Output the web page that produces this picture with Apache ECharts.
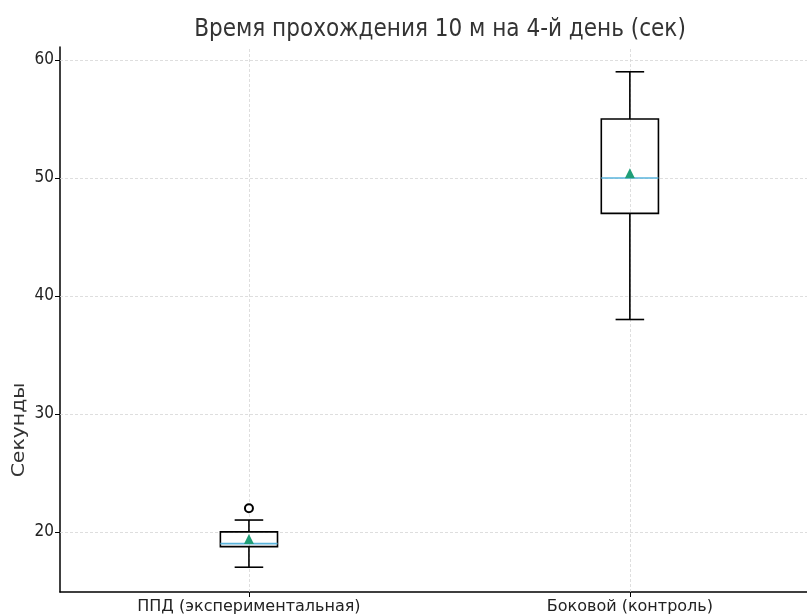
<!DOCTYPE html>
<html>
<head>
<meta charset="utf-8">
<script src="https://cdn.jsdelivr.net/npm/echarts@6/dist/echarts.min.js"></script>
<style>
  html, body { margin: 0; padding: 0; background: #fff; }
  #chart { width: 807px; height: 616px; }
</style>
</head>
<body>
<div id="chart"></div>
<script>
// Groups and their box statistics (seconds)
const categories = ['ППД (экспериментальная)', 'Боковой (контроль)'];
const positions = [1, 2];
const whiskerLow = [17, 38];
const q1 = [18.75, 47];
const median = [19, 50];
const q3 = [20, 55];
const whiskerHigh = [21, 59];
const means = [19.4, 50.4];
const outliers = [[1, 22]];
const yTicks = [20, 30, 40, 50, 60];

const condensed = '"DejaVu Sans Condensed", "DejaVu Sans", sans-serif';
const regular = '"DejaVu Sans", sans-serif';

const boxData = positions.map((p, i) => [p, whiskerLow[i], q1[i], median[i], q3[i], whiskerHigh[i]]);
const meanData = positions.map((p, i) => [p, means[i]]);

const chart = echarts.init(document.getElementById('chart'), null, { renderer: 'canvas' });

// Box, whiskers with half-width caps, and a coloured median line
function renderBox(params, api) {
  const x = api.value(0);
  const unit = api.size([1, 0])[0];
  const half = unit * 0.15 / 2;
  const cap = half / 2;
  const pLo = api.coord([x, api.value(1)]);
  const pQ1 = api.coord([x, api.value(2)]);
  const pMed = api.coord([x, api.value(3)]);
  const pQ3 = api.coord([x, api.value(4)]);
  const pHi = api.coord([x, api.value(5)]);
  const cx = pMed[0];
  const black = { stroke: '#000', lineWidth: 1.6 };
  return {
    type: 'group',
    children: [
      { type: 'line', shape: { x1: cx, y1: pLo[1], x2: cx, y2: pQ1[1] }, style: black },
      { type: 'line', shape: { x1: cx, y1: pQ3[1], x2: cx, y2: pHi[1] }, style: black },
      { type: 'line', shape: { x1: cx - cap, y1: pLo[1], x2: cx + cap, y2: pLo[1] }, style: black },
      { type: 'line', shape: { x1: cx - cap, y1: pHi[1], x2: cx + cap, y2: pHi[1] }, style: black },
      { type: 'rect', shape: { x: cx - half, y: pQ3[1], width: half * 2, height: pQ1[1] - pQ3[1] }, style: { stroke: '#000', lineWidth: 1.6, fill: null } },
      { type: 'line', shape: { x1: cx - half, y1: pMed[1], x2: cx + half, y2: pMed[1] }, style: { stroke: '#5ab4dc', lineWidth: 1.6 } }
    ]
  };
}

const gridLineStyle = { color: '#d6d6d6', type: [3, 2], width: 0.8 };

chart.setOption({
  animation: false,
  backgroundColor: '#fff',
  grid: { left: 60, right: 0, top: 47, bottom: 24, containLabel: false },
  xAxis: {
    type: 'value',
    min: 0.504,
    max: 2.465,
    axisLine: { lineStyle: { color: '#000', width: 1.5 } },
    axisTick: { length: 5, customValues: positions, lineStyle: { color: '#000', width: 1 } },
    axisLabel: {
      color: '#222', fontSize: 16, fontFamily: regular, margin: 7,
      customValues: positions,
      formatter: v => categories[positions.indexOf(v)] || ''
    },
    splitLine: { show: false }
  },
  yAxis: {
    type: 'value',
    min: 14.9,
    max: 61.1,
    axisLine: { show: true, lineStyle: { color: '#000', width: 1.5 } },
    axisTick: { show: true, length: 5, customValues: yTicks, lineStyle: { color: '#000', width: 1 } },
    axisLabel: { color: '#222', fontSize: 17, fontFamily: condensed, margin: 6, customValues: yTicks },
    splitLine: { show: false }
  },
  graphic: [
    {
      type: 'text', x: 440, y: 30,
      style: { text: 'Время прохождения 10 м на 4-й день (сек)', fill: '#333', font: '24px ' + condensed, textAlign: 'center', textVerticalAlign: 'middle' }
    },
    {
      type: 'text', x: 20, y: 430, rotation: Math.PI / 2, scaleX: 1.2,
      style: { text: 'Секунды', fill: '#333', font: '17px ' + regular, textAlign: 'center', textVerticalAlign: 'middle' }
    }
  ],
  series: [
    {
      type: 'scatter',
      name: 'grid',
      data: [],
      z: 1,
      markLine: {
        silent: true,
        z: 1,
        symbol: 'none',
        animation: false,
        label: { show: false },
        lineStyle: gridLineStyle,
        data: positions.map(p => ({ xAxis: p })).concat(yTicks.map(v => ({ yAxis: v })))
      }
    },
    {
      type: 'custom',
      name: 'box',
      data: boxData,
      encode: { x: 0, y: [1, 2, 3, 4, 5] },
      renderItem: renderBox,
      z: 3
    },
    {
      type: 'scatter',
      name: 'mean',
      data: meanData,
      symbol: 'triangle',
      symbolSize: 10,
      itemStyle: { color: '#1f9e78', opacity: 1 },
      z: 4
    },
    {
      type: 'scatter',
      name: 'outliers',
      data: outliers,
      symbol: 'circle',
      symbolSize: 8,
      itemStyle: { color: '#fff', borderColor: '#000', borderWidth: 2, opacity: 1 },
      z: 4
    }
  ]
});
</script>
</body>
</html>
